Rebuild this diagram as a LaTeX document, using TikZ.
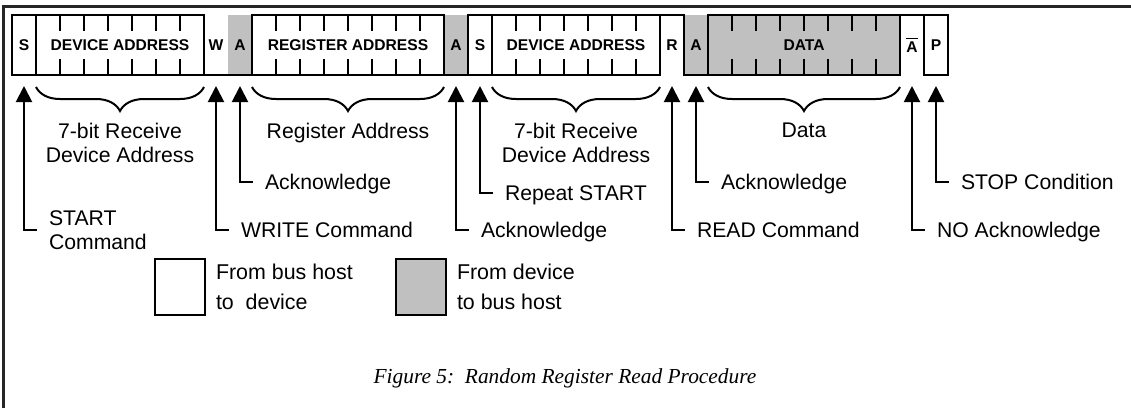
\documentclass[tikz,border=0pt]{standalone}
\usepackage{fontspec}
\setmainfont{Liberation Sans}
\newfontfamily\capfont{Liberation Serif}
\usetikzlibrary{arrows.meta,positioning,decorations.pathreplacing}
\definecolor{devgray}{RGB}{192,192,192}

\begin{document}
\begin{tikzpicture}[x=0.5pt,y=-0.5pt,line width=1pt]
\tikzset{edge/.style = {-{Triangle[length=8pt,width=8pt]},shorten >=5.5pt}}
\tikzset{cell/.style = {anchor=west,minimum width=12pt,minimum height=30pt,inner sep=0pt,outer sep=0pt,font=\bfseries\fontsize{7.8}{9}\selectfont}}
\tikzset{lbl/.style = {inner sep=0pt,font=\fontsize{10.6}{12}\selectfont}}
\tikzset{tag/.style = {lbl,text height=7.6pt,text depth=0pt}}
\tikzset{brc/.style = {decorate,decoration={brace,mirror,amplitude=12pt,raise=6pt}}}
\tikzset{key/.style = {draw,minimum width=25pt,minimum height=28pt,inner sep=0pt}}

\useasboundingbox (0,0) rectangle (1131,408);
\draw[line width=1.5pt,black!85] (3.5,408) -- (3.5,6.5) -- (1131,6.5);

% gray cells first, so the outlines stay on top
\node[cell,fill=devgray] (a1) at (228,45) {A};
\node[cell,fill=devgray] (a2) at (444,45) {A};
\node[cell,fill=devgray] (a3) at (684,45) {A};

\node[cell,draw] (s1) at (12,45) {S};
\node[cell,draw,minimum width=84pt] (dev1) at (36,45) {DEVICE ADDRESS};
\node[cell] (w) at (204,45) {W};
\node[cell,draw,minimum width=96pt] (reg) at (252,45) {REGISTER ADDRESS};
\node[cell,draw] (s2) at (468,45) {S};
\node[cell,draw,minimum width=84pt] (dev2) at (492,45) {DEVICE ADDRESS};
\node[cell] (r) at (660,45) {R};
\node[cell,draw,fill=devgray,minimum width=96pt] (data) at (708,45) {DATA};
\node[cell] (nack) at (900,45) {$\overline{\mbox{A}}$};
\node[cell,draw] (p) at (924,45) {P};

% low and high levels of the open cells
\draw (w.south west) -- (a1.south east);
\draw (a2.south west) -- (a2.south east);
\draw (r.north west) -- (r.north east) -- (r.south east) -- (a3.south east);
\draw (nack.north west) -- (nack.north east);

% bit ticks
\foreach \bx/\n in {36/6,252/7,492/6,708/7}
  \foreach \i in {1,...,\n}
    \draw[line width=0.8pt] (\bx+24*\i,15) -- ++(0,16) (\bx+24*\i,75) -- ++(0,-16);

% braces
\draw[brc] (dev1.south west) -- (dev1.south east);
\draw[brc] (reg.south west) -- (reg.south east);
\draw[brc] (dev2.south west) -- (dev2.south east);
\draw[brc] (data.south west) -- (data.south east);

\node[lbl,align=center,below=23.5pt of dev1] (devtxt1) {7-bit Receive\\Device Address};
\node[lbl,below=23.5pt of reg] (regtxt) {Register Address};
\node[lbl,align=center,below=23.5pt of dev2] (devtxt2) {7-bit Receive\\Device Address};
\node[lbl,below=23.5pt of data] (datatxt) {Data};

% pointers
\coordinate (k1) at (37,230);
\coordinate (k2) at (229,230);
\coordinate (k3) at (253,182);
\coordinate (k4) at (469,230);
\coordinate (k5) at (493,193);
\coordinate (k6) at (685,230);
\coordinate (k7) at (709,182);
\coordinate (k8) at (925,230);
\coordinate (k9) at (949,182);

\draw[edge] (k1) -| (s1);
\draw[edge] (k2) -| (w);
\draw[edge] (k3) -| (a1);
\draw[edge] (k4) -| (a2);
\draw[edge] (k5) -| (s2);
\draw[edge] (k6) -| (r);
\draw[edge] (k7) -| (a3);
\draw[edge] (k8) -| (nack);
\draw[edge] (k9) -| (p);

\node[lbl,align=left,right=5.5pt of k1] (t1) {START\\Command};
\node[tag,right=5.5pt of k2] (t2) {WRITE Command};
\node[tag,right=5.5pt of k3] (t3) {Acknowledge};
\node[tag,right=5.5pt of k4] (t4) {Acknowledge};
\node[tag,right=5.5pt of k5] (t5) {Repeat START};
\node[tag,right=5.5pt of k6] (t6) {READ Command};
\node[tag,right=5.5pt of k7] (t7) {Acknowledge};
\node[tag,right=5.5pt of k8] (t8) {NO Acknowledge};
\node[tag,right=5.5pt of k9] (t9) {STOP Condition};

% legend
\node[key] (host) at (180,287) {};
\node[lbl,align=left,font=\fontsize{10.7}{15}\selectfont,right=4.5pt of host] (hosttxt) {From bus host\\to\ \ device};
\node[key,fill=devgray] (dev) at (421,287) {};
\node[lbl,align=left,font=\fontsize{10.7}{15}\selectfont,right=4.5pt of dev] (devtxt) {From device\\to bus host};

\node[font=\capfont\itshape\fontsize{10.7}{13}\selectfont,anchor=base] (cap) at (565,383) {Figure 5:\ \ Random Register Read Procedure};
\end{tikzpicture}
\end{document}
